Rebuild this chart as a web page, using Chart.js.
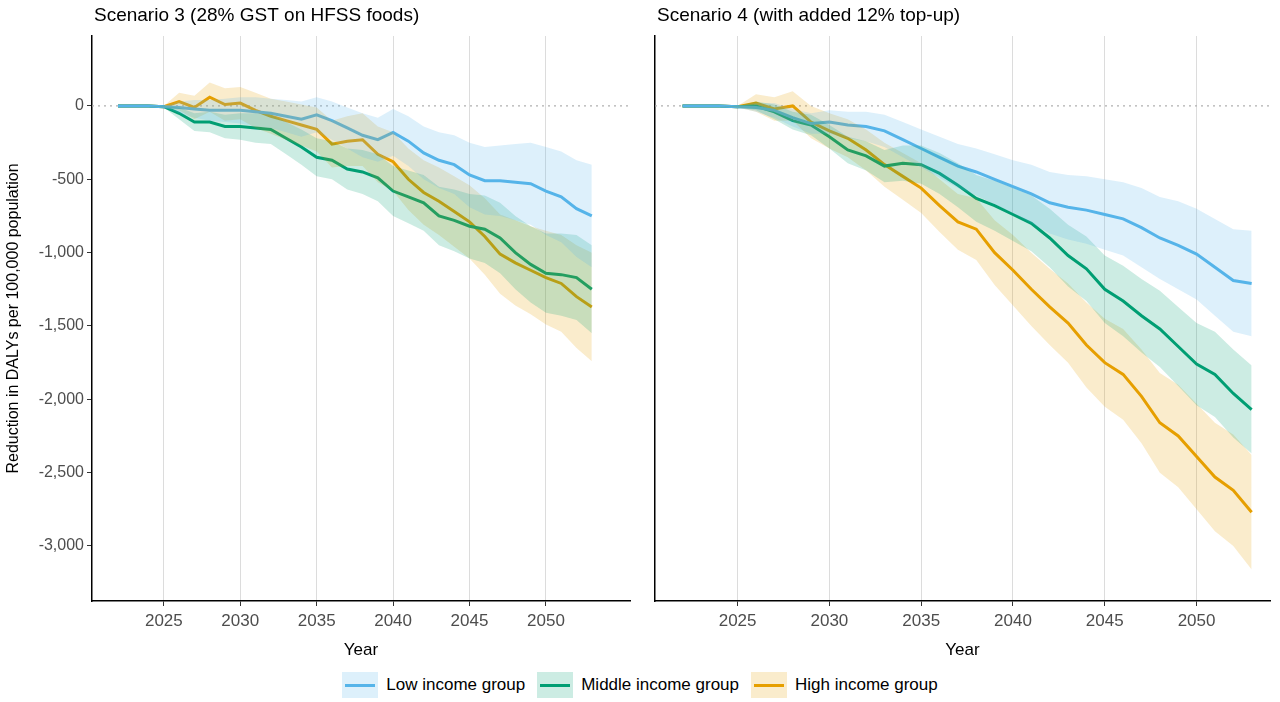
<!DOCTYPE html>
<html>
<head>
<meta charset="utf-8">
<script src="https://cdn.jsdelivr.net/npm/chart.js@4"></script>
<style>
  body { margin: 0; background: #fff; font-family: "Liberation Sans", Arial, sans-serif; }
  #wrap { position: relative; width: 1280px; height: 702px; }
  canvas { position: absolute; top: 0; }
  #legend { position: absolute; top: 672px; left: 0; width: 1280px; display: flex; justify-content: center; gap: 12px; font-size: 17px; color: #000; }
  .item { display: flex; align-items: center; gap: 8px; }
  .key { width: 36px; height: 26px; position: relative; }
  .key i { position: absolute; left: 3px; right: 3px; top: 12px; height: 3px; }
</style>
</head>
<body>
<div id="wrap">
  <canvas id="left" width="640" height="665" style="left:0;width:640px;height:665px"></canvas>
  <canvas id="right" width="640" height="665" style="left:640px;width:640px;height:665px"></canvas>
  <div id="legend"></div>
</div>
<script>
const years = [];
for (let y = 2022; y <= 2053; y++) years.push(y);
const xTicks = [2025, 2030, 2035, 2040, 2045, 2050];
const yTicks = [0, -500, -1000, -1500, -2000, -2500, -3000];
const groups = ["Low income group", "Middle income group", "High income group"];
const colors = ["#56B4E9", "#009E73", "#E69F00"];

// Scenario 3
const s3Low = [0,0,0,-5,-10,-20,-30,-30,-30,-40,-50,-70,-90,-60,-100,-150,-200,-230,-180,-240,-320,-370,-400,-470,-510,-510,-520,-530,-580,-620,-700,-750];
const s3Mid = [0,0,0,-5,-50,-110,-110,-140,-140,-150,-160,-220,-280,-350,-370,-430,-450,-490,-580,-620,-660,-750,-780,-820,-840,-900,-1000,-1080,-1140,-1150,-1170,-1250];
const s3High = [0,0,0,-5,30,-10,60,10,20,-30,-70,-100,-130,-160,-260,-240,-230,-330,-380,-500,-590,-650,-720,-790,-890,-1010,-1070,-1120,-1170,-1210,-1300,-1370];
const s3LowSpread = [0,0,0,5,40,60,70,80,90,100,100,110,120,120,130,140,150,150,160,170,180,190,200,220,230,240,260,280,300,310,330,350];
const s3MidSpread = [0,0,0,5,40,60,70,80,90,100,100,110,120,130,130,140,150,160,170,180,190,200,210,220,230,240,250,260,270,280,290,300];
const s3HighSpread = [0,0,0,5,60,80,100,110,110,120,120,130,140,150,160,170,180,190,200,210,220,230,240,250,260,270,290,300,320,330,350,370];

// Scenario 4
const s4Low = [0,0,0,-5,-10,-30,-80,-120,-110,-130,-140,-170,-230,-290,-350,-410,-450,-500,-550,-600,-660,-690,-710,-740,-770,-830,-900,-950,-1010,-1100,-1190,-1210];
const s4Mid = [0,0,0,-5,0,-40,-100,-130,-210,-300,-340,-410,-390,-400,-460,-540,-630,-680,-740,-800,-900,-1020,-1110,-1250,-1330,-1430,-1520,-1640,-1760,-1830,-1960,-2070];
const s4High = [0,0,0,-5,20,-20,0,-110,-170,-220,-300,-400,-480,-560,-680,-790,-840,-1000,-1120,-1250,-1370,-1480,-1630,-1750,-1830,-1980,-2160,-2250,-2390,-2530,-2620,-2770];
const s4LowSpread = [0,0,0,5,30,50,60,70,80,90,100,110,120,130,140,150,160,170,180,200,210,220,230,240,250,270,280,300,310,330,350,360];
const s4MidSpread = [0,0,0,5,30,50,60,70,80,90,100,110,120,130,140,150,160,170,180,190,200,210,220,230,240,250,260,270,280,290,300,300];
const s4HighSpread = [0,0,0,5,60,80,100,110,120,130,140,150,160,170,180,190,210,220,240,250,260,270,290,300,310,320,340,350,360,370,380,390];

function hexA(hex, a) {
  const n = parseInt(hex.slice(1), 16);
  return `rgba(${n >> 16}, ${(n >> 8) & 255}, ${n & 255}, ${a})`;
}

function buildDatasets(series, spreads) {
  const out = [];
  series.forEach((vals, i) => {
    const pts = (arr) => arr.map((v, k) => ({ x: years[k], y: v }));
    out.push({ data: pts(vals.map((v, k) => v + spreads[i][k])), borderWidth: 0, pointRadius: 0, fill: '+1', backgroundColor: hexA(colors[i], 0.2) });
    out.push({ data: pts(vals.map((v, k) => v - spreads[i][k])), borderWidth: 0, pointRadius: 0, fill: false });
  });
  series.forEach((vals, i) => {
    out.push({ data: vals.map((v, k) => ({ x: years[k], y: v })), borderColor: colors[i], borderWidth: 3, pointRadius: 0, fill: false, tension: 0 });
  });
  return out;
}

const zeroLine = {
  id: 'zeroLine',
  beforeDatasetsDraw(chart) {
    const { ctx, chartArea, scales } = chart;
    const y = scales.y.getPixelForValue(0);
    ctx.save();
    ctx.strokeStyle = '#b0b0b0';
    ctx.setLineDash([2, 4]);
    ctx.lineWidth = 1.2;
    ctx.beginPath(); ctx.moveTo(chartArea.left, y); ctx.lineTo(chartArea.right, y); ctx.stroke();
    ctx.restore();
  }
};

const panelTitle = {
  id: 'panelTitle',
  afterDraw(chart, args, opts) {
    const { ctx, chartArea } = chart;
    ctx.save();
    ctx.font = '19px "Liberation Sans", Arial, sans-serif';
    ctx.fillStyle = '#000';
    ctx.textBaseline = 'middle';
    ctx.fillText(opts.text, chartArea.left + 2, 16);
    ctx.restore();
  }
};

function makeChart(id, title, series, spreads, showY, xmin, xmax, leftW) {
  return new Chart(document.getElementById(id), {
    type: 'line',
    data: { datasets: buildDatasets(series, spreads) },
    plugins: [zeroLine, panelTitle],
    options: {
      responsive: false, animation: false,
      layout: { padding: { top: 36, right: 10 } },
      plugins: { legend: { display: false }, tooltip: { enabled: false }, panelTitle: { text: title } },
      scales: {
        x: {
          type: 'linear', min: xmin, max: xmax,
          afterBuildTicks: (s) => { s.ticks = xTicks.map(v => ({ value: v })); },
          afterFit: (s) => { s.height = 64; },
          grid: { color: '#dcdcdc', lineWidth: 1, tickLength: 5, tickColor: '#333' },
          border: { color: '#000', width: 1.5 },
          ticks: { color: '#4d4d4d', font: { size: 17 }, padding: 5, callback: v => String(v) },
          title: { display: true, text: 'Year', color: '#000', font: { size: 17 }, padding: { top: 2 } }
        },
        y: {
          min: -3375, max: 477,
          afterBuildTicks: (s) => { s.ticks = yTicks.map(v => ({ value: v })); },
          afterFit: (s) => { s.width = leftW; },
          grid: { drawOnChartArea: false, drawTicks: showY, tickLength: 5, tickColor: '#333' },
          border: { color: '#000', width: 1.5 },
          ticks: { display: showY, color: '#4d4d4d', font: { size: 16 }, padding: 3, callback: v => v.toLocaleString('en-US') },
          title: { display: showY, text: 'Reduction in DALYs per 100,000 population', color: '#000', font: { size: 16 }, padding: { bottom: 2 } }
        }
      }
    }
  });
}

makeChart('left', 'Scenario 3 (28% GST on HFSS foods)', [s3Low, s3Mid, s3High], [s3LowSpread, s3MidSpread, s3HighSpread], true, 2020.3, 2055.5, 92);
makeChart('right', 'Scenario 4 (with added 12% top-up)', [s4Low, s4Mid, s4High], [s4LowSpread, s4MidSpread, s4HighSpread], false, 2020.5, 2054.0, 15);

const legend = document.getElementById('legend');
groups.forEach((g, i) => {
  legend.insertAdjacentHTML('beforeend',
    `<div class="item"><div class="key" style="background:${hexA(colors[i], 0.2)}"><i style="background:${colors[i]}"></i></div><span>${g}</span></div>`);
});
</script>
</body>
</html>
